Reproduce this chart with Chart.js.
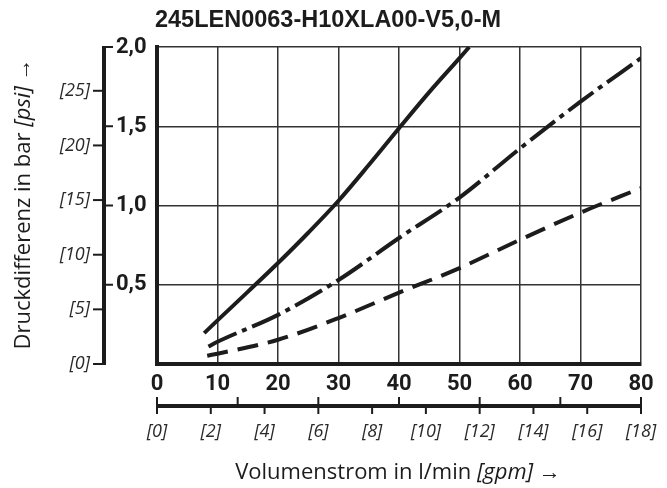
<!DOCTYPE html>
<html>
<head>
<meta charset="utf-8">
<script src="https://cdn.jsdelivr.net/npm/chart.js@4/dist/chart.umd.min.js"></script>
<style>
  html, body { margin: 0; padding: 0; background: #fff; }
  #wrap { width: 667px; height: 488px; position: relative; }
</style>
</head>
<body>
<div id="wrap"><canvas id="chart"></canvas></div>
<script>
// ---- chart data ----
const chartTitle = '245LEN0063-H10XLA00-V5,0-M';

// flow in l/min and pressure drop in bar for the three characteristic curves
const flowSolid   = [7.8, 10, 15, 20, 25, 30, 35, 40, 45, 50, 51.6];
const dpSolid     = [0.195, 0.275, 0.455, 0.637, 0.828, 1.03, 1.255, 1.487, 1.715, 1.93, 2.0];

const flowDashDot = [8.5, 10, 20, 30, 40, 50, 60, 70, 80];
const dpDashDot   = [0.11, 0.14, 0.31, 0.53, 0.795, 1.05, 1.36, 1.655, 1.93];

const flowDashed  = [8.3, 10, 20, 30, 40, 50, 60, 70, 80];
const dpDashed    = [0.052, 0.065, 0.153, 0.29, 0.45, 0.605, 0.784, 0.955, 1.11];

// tick labels
const flowTicks      = [0, 10, 20, 30, 40, 50, 60, 70, 80];
const barTicks       = [0, 0.5, 1.0, 1.5, 2.0];
const barTickLabels  = ['', '0,5', '1,0', '1,5', '2,0'];
const psiTicks       = [0, 5, 10, 15, 20, 25];
const gpmTicks       = [0, 2, 4, 6, 8, 10, 12, 14, 16, 18];
const gpmUpperTicks  = [0, 3, 6, 9, 12, 15, 18];

// unit relations of the secondary axes
const PSI_PER_BAR = 14.5038;
const LPM_AT_GPM_END = 80;   // the gpm scale runs 0..18 over the full 0..80 l/min width
const GPM_END = 18;

const INK = '#1c1c1c';
const BOLD  = 'bold 22px Roboto, "DejaVu Sans", sans-serif';
const ITAL  = 'italic 18px "Open Sans", "Noto Sans", sans-serif';
const REG   = '22px "Open Sans", "Noto Sans", sans-serif';
const REG_I = 'italic 22px "Open Sans", "Noto Sans", sans-serif';

function pts(xs, ys) { return xs.map((v, i) => ({ x: v, y: ys[i] })); }

function drawMixed(ctx, parts, cx, cy) {
  // parts: [[text, font], ...] drawn centred on (cx, cy)
  let total = 0;
  parts.forEach(p => { ctx.font = p[1]; total += ctx.measureText(p[0]).width; });
  let x = cx - total / 2;
  ctx.textAlign = 'left';
  parts.forEach(p => { ctx.font = p[1]; ctx.fillText(p[0], x, cy); x += ctx.measureText(p[0]).width; });
}

const decorPlugin = {
  id: 'decor',
  afterDraw(chart) {
    const { ctx } = chart;
    const xs = chart.scales.x, ys = chart.scales.y;
    ctx.save();
    ctx.fillStyle = INK;
    ctx.strokeStyle = INK;
    ctx.textBaseline = 'middle';

    // title
    ctx.font = 'bold 23.5px "Liberation Sans", Arial, sans-serif';
    ctx.textAlign = 'center';
    ctx.fillText(chartTitle, 328, 21);

    // flow tick labels under the plot
    ctx.font = BOLD;
    flowTicks.forEach(v => ctx.fillText(String(v), xs.getPixelForValue(v), 384));

    // pressure axis (bar right, psi left)
    const axX = 104;
    const yTop = ys.getPixelForValue(2.0), yBot = ys.getPixelForValue(0);
    ctx.lineWidth = 4;
    ctx.beginPath(); ctx.moveTo(axX, yBot + 1); ctx.lineTo(axX, yTop - 1); ctx.stroke();
    ctx.lineWidth = 2;
    barTicks.forEach((v, i) => {
      const py = ys.getPixelForValue(v);
      if (barTickLabels[i]) {
        ctx.beginPath(); ctx.moveTo(axX, py); ctx.lineTo(axX + 9, py); ctx.stroke();
        ctx.font = BOLD; ctx.textAlign = 'left';
        ctx.fillText(barTickLabels[i], axX + 12, py);
      }
    });
    psiTicks.forEach(v => {
      const py = ys.getPixelForValue(v / PSI_PER_BAR);
      ctx.beginPath(); ctx.moveTo(axX - 11, py); ctx.lineTo(axX, py); ctx.stroke();
      ctx.font = ITAL; ctx.textAlign = 'right'; ctx.fillStyle = '#2a2a2a';
      ctx.fillText('[' + v + ']', axX - 14, py);
      ctx.fillStyle = INK;
    });

    // gpm axis below the flow labels
    const gy = 406;
    const gx = g => xs.getPixelForValue(g * LPM_AT_GPM_END / GPM_END);
    ctx.lineWidth = 4;
    ctx.beginPath(); ctx.moveTo(gx(0) - 1, gy); ctx.lineTo(gx(GPM_END) + 1, gy); ctx.stroke();
    ctx.lineWidth = 2;
    gpmUpperTicks.forEach(g => {
      ctx.beginPath(); ctx.moveTo(gx(g), gy - 9); ctx.lineTo(gx(g), gy); ctx.stroke();
    });
    gpmTicks.forEach(g => {
      ctx.beginPath(); ctx.moveTo(gx(g), gy); ctx.lineTo(gx(g), gy + 8); ctx.stroke();
      ctx.font = ITAL; ctx.textAlign = 'center'; ctx.fillStyle = '#2a2a2a';
      ctx.fillText('[' + g + ']', gx(g), 432);
      ctx.fillStyle = INK;
    });

    // axis titles
    drawMixed(ctx, [['Volumenstrom in l/min ', REG], ['[gpm]', REG_I], [' \u2192', REG]], 398, 473);
    ctx.translate(24, 204);
    ctx.rotate(-Math.PI / 2);
    drawMixed(ctx, [['Druckdifferenz in bar ', REG], ['[psi]', REG_I], [' \u2192', REG]], 0, 0);
    ctx.restore();
  }
};

const lineStyle = { borderColor: INK, borderWidth: 4, pointRadius: 0, fill: false,
                    cubicInterpolationMode: 'monotone', borderCapStyle: 'butt' };

new Chart(document.getElementById('chart'), {
  type: 'line',
  data: {
    datasets: [
      Object.assign({ label: 'A', data: pts(flowSolid, dpSolid) }, lineStyle),
      Object.assign({ label: 'B', data: pts(flowDashDot, dpDashDot), borderDash: [31, 6, 5, 6] }, lineStyle),
      Object.assign({ label: 'C', data: pts(flowDashed, dpDashed), borderDash: [21, 10] }, lineStyle)
    ]
  },
  options: {
    responsive: true,
    maintainAspectRatio: false,
    animation: false,
    devicePixelRatio: 1,
    layout: { padding: { left: 157, right: 26, top: 47, bottom: 124 } },
    plugins: { legend: { display: false }, tooltip: { enabled: false }, title: { display: false } },
    scales: {
      x: {
        type: 'linear', min: 0, max: 80,
        ticks: { display: false, stepSize: 10 },
        grid: { color: '#333', lineWidth: 1.5, drawTicks: false },
        border: { color: INK, width: 4 }
      },
      y: {
        type: 'linear', min: 0, max: 2,
        ticks: { display: false, stepSize: 0.5 },
        grid: { color: '#333', lineWidth: 1.5, drawTicks: false },
        border: { color: INK, width: 4 }
      }
    }
  },
  plugins: [decorPlugin]
});
</script>
</body>
</html>
